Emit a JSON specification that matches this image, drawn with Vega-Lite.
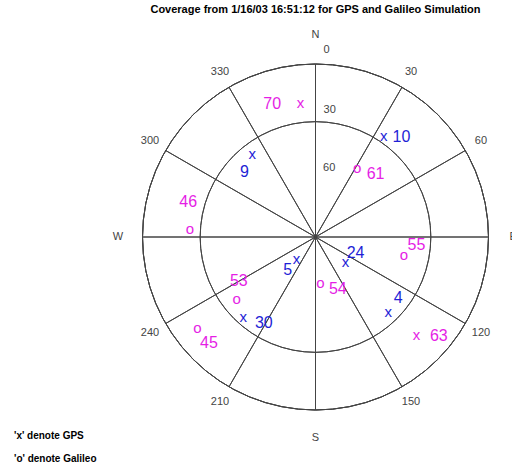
{
  "$schema": "https://vega.github.io/schema/vega-lite/v6.json",
  "autosize": {"type": "none"},
  "width": 360,
  "height": 360,
  "padding": {"left": 135.5, "top": 57, "right": 16.5, "bottom": 54},
  "background": "white",
  "title": {"text": "Coverage from 1/16/03 16:51:12 for GPS and Galileo Simulation", "font": "Liberation Sans", "fontSize": 11, "fontWeight": "bold", "color": "black", "anchor": "middle", "frame": "group", "offset": 14},
  "config": {"view": {"stroke": null}},
  "datasets": {
    "rings": [{"el": 0}, {"el": 30}, {"el": 60}],
    "spokes": [{"az": 0}, {"az": 30}, {"az": 60}, {"az": 90}, {"az": 120}, {"az": 150}, {"az": 180}, {"az": 210}, {"az": 240}, {"az": 270}, {"az": 300}, {"az": 330}],
    "azlabels": [
      {"az": 30, "el": -9.4, "t": "30"}, {"az": 60, "el": -9.4, "t": "60"},
      {"az": 120, "el": -9.4, "t": "120"}, {"az": 150, "el": -9.4, "t": "150"},
      {"az": 210, "el": -9.4, "t": "210"}, {"az": 240, "el": -9.4, "t": "240"},
      {"az": 300, "el": -9.4, "t": "300"}, {"az": 330, "el": -9.4, "t": "330"},
      {"az": 0, "el": -15, "t": "N"}, {"az": 90, "el": -12.8, "t": "E"},
      {"az": 180, "el": -14.7, "t": "S"}, {"az": 270, "el": -12.8, "t": "W"},
      {"az": 3.4, "el": -7.4, "t": "0"}, {"az": 6.4, "el": 23.5, "t": "30"}, {"az": 11.3, "el": 53.5, "t": "60"}
    ],
    "sats": [
      {"prn": "70", "sys": "Galileo", "mk": "x", "az": 353.6, "el": 19.7, "laz": 342.0, "lel": 17.2},
      {"prn": "10", "sys": "GPS", "mk": "x", "az": 34.0, "el": 26.4, "laz": 40.6, "lel": 21.3},
      {"prn": "9", "sys": "GPS", "mk": "x", "az": 322.7, "el": 35.7, "laz": 312.3, "lel": 40.0},
      {"prn": "61", "sys": "Galileo", "mk": "o", "az": 31.3, "el": 48.2, "laz": 43.7, "lel": 44.8},
      {"prn": "46", "sys": "Galileo", "mk": "o", "az": 273.6, "el": 24.5, "laz": 285.2, "lel": 21.4},
      {"prn": "55", "sys": "Galileo", "mk": "o", "az": 101.5, "el": 43.1, "laz": 94.5, "lel": 37.3},
      {"prn": "24", "sys": "GPS", "mk": "x", "az": 129.5, "el": 69.8, "laz": 111.4, "lel": 67.6},
      {"prn": "5", "sys": "GPS", "mk": "x", "az": 220.4, "el": 74.8, "laz": 220.0, "lel": 67.6},
      {"prn": "54", "sys": "Galileo", "mk": "o", "az": 173.8, "el": 66.1, "laz": 156.9, "lel": 60.4},
      {"prn": "53", "sys": "Galileo", "mk": "o", "az": 231.7, "el": 37.7, "laz": 240.3, "lel": 44.1},
      {"prn": "30", "sys": "GPS", "mk": "x", "az": 222.2, "el": 34.0, "laz": 211.1, "lel": 37.9},
      {"prn": "4", "sys": "GPS", "mk": "x", "az": 135.8, "el": 35.8, "laz": 126.5, "lel": 36.5},
      {"prn": "63", "sys": "Galileo", "mk": "x", "az": 134.1, "el": 16.8, "laz": 128.8, "lel": 7.7},
      {"prn": "45", "sys": "Galileo", "mk": "o", "az": 232.3, "el": 12.3, "laz": 225.1, "lel": 11.7}
    ]
  },
  "layer": [
    {
      "data": {"name": "rings"},
      "mark": {"type": "arc", "fill": "transparent", "stroke": "#444444", "strokeWidth": 1},
      "encoding": {
        "theta": {"value": 0},
        "theta2": {"value": 6.2832},
        "radius": {"field": "el", "type": "quantitative", "scale": {"type": "linear", "domain": [90, 0], "range": [0, 173], "zero": false}},
        "radius2": {"value": 0}
      }
    },
    {
      "data": {"name": "spokes"},
      "mark": {"type": "arc", "fill": "transparent", "stroke": "#444444", "strokeWidth": 1},
      "encoding": {
        "theta": {"field": "az", "type": "quantitative", "stack": null, "scale": {"type": "linear", "domain": [0, 360], "range": [0, 6.283185307], "zero": false}},
        "theta2": {"field": "az"},
        "radius": {"datum": 0, "type": "quantitative", "scale": {"type": "linear", "domain": [90, 0], "range": [0, 173], "zero": false}},
        "radius2": {"value": 0}
      }
    },
    {
      "data": {"name": "azlabels"},
      "mark": {"type": "text", "font": "Liberation Sans", "fontSize": 11, "color": "#444444", "align": "center", "baseline": "middle"},
      "encoding": {
        "theta": {"field": "az", "type": "quantitative", "stack": null, "scale": {"type": "linear", "domain": [0, 360], "range": [0, 6.283185307], "zero": false}},
        "radius": {"field": "el", "type": "quantitative", "scale": {"type": "linear", "domain": [90, 0], "range": [0, 173], "zero": false}},
        "text": {"field": "t"}
      }
    },
    {
      "data": {"name": "sats"},
      "mark": {"type": "text", "font": "Liberation Sans", "fontSize": 15, "align": "center", "baseline": "middle"},
      "encoding": {
        "theta": {"field": "az", "type": "quantitative", "stack": null, "scale": {"type": "linear", "domain": [0, 360], "range": [0, 6.283185307], "zero": false}},
        "radius": {"field": "el", "type": "quantitative", "scale": {"type": "linear", "domain": [90, 0], "range": [0, 173], "zero": false}},
        "text": {"field": "mk"},
        "color": {"field": "sys", "type": "nominal", "scale": {"domain": ["GPS", "Galileo"], "range": ["#1f1fd6", "#e51ee5"]},
          "legend": {"orient": "none", "legendX": -131.5, "legendY": 374, "title": null, "labelExpr": "datum.label == 'GPS' ? \"'x' denote GPS\" : \"'o' denote Galileo\"", "labelFont": "Liberation Sans", "labelFontSize": 10, "labelFontWeight": "bold", "labelColor": "black", "symbolSize": 0, "symbolOpacity": 0, "symbolStrokeWidth": 0, "labelOffset": 0, "rowPadding": 13}}
      }
    },
    {
      "data": {"name": "sats"},
      "mark": {"type": "text", "font": "Liberation Sans", "fontSize": 16, "align": "center", "baseline": "middle"},
      "encoding": {
        "theta": {"field": "laz", "type": "quantitative", "stack": null, "scale": {"type": "linear", "domain": [0, 360], "range": [0, 6.283185307], "zero": false}},
        "radius": {"field": "lel", "type": "quantitative", "scale": {"type": "linear", "domain": [90, 0], "range": [0, 173], "zero": false}},
        "text": {"field": "prn"},
        "color": {"field": "sys", "type": "nominal", "scale": {"domain": ["GPS", "Galileo"], "range": ["#1f1fd6", "#e51ee5"]}}
      }
    }
  ]
}
